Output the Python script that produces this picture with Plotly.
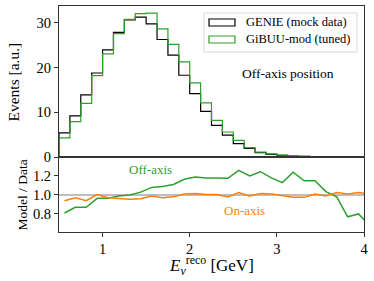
import plotly.graph_objects as go

# ---------------- data ----------------
bin_edges = [0.5, 0.625, 0.75, 0.875, 1.0, 1.125, 1.25, 1.375, 1.5, 1.625, 1.75, 1.875,
             2.0, 2.125, 2.25, 2.375, 2.5, 2.625, 2.75, 2.875, 3.0, 3.125, 3.25, 3.375,
             3.5, 3.625, 3.75, 3.875, 4.0]
genie_mock = [5.4, 9.2, 13.9, 18.8, 24.0, 27.9, 30.7, 31.3, 29.8, 26.3, 22.8, 18.3,
              14.2, 10.2, 7.1, 4.9, 3.0, 1.9, 1.0, 0.6, 0.35, 0.2, 0.12, 0.08,
              0.05, 0.03, 0.02, 0.01]
gibuu_tuned = [4.3, 7.9, 12.0, 18.2, 23.1, 27.6, 30.8, 32.1, 32.2, 28.7, 25.2, 21.3,
               16.6, 12.1, 8.2, 5.6, 3.7, 2.1, 1.1, 0.7, 0.4, 0.25, 0.12, 0.08,
               0.05, 0.03, 0.02, 0.01]

bin_centers = [0.5625, 0.6875, 0.8125, 0.9375, 1.0625, 1.1875, 1.3125, 1.4375, 1.5625,
               1.6875, 1.8125, 1.9375, 2.0625, 2.1875, 2.3125, 2.4375, 2.5625, 2.6875,
               2.8125, 2.9375, 3.0625, 3.1875, 3.3125, 3.4375, 3.5625, 3.6875, 3.8125,
               3.9375, 4.0625]
ratio_off_axis = [0.81, 0.87, 0.87, 0.965, 0.965, 0.99, 1.00, 1.03, 1.08, 1.09, 1.11, 1.165,
                  1.19, 1.18, 1.18, 1.175, 1.26, 1.20, 1.245, 1.18, 1.13, 1.24, 1.15, 1.15,
                  1.035, 0.98, 0.77, 0.80, 0.68]
ratio_on_axis = [0.94, 0.97, 0.94, 1.005, 0.97, 0.965, 0.955, 0.96, 0.99, 0.97, 0.98, 1.01,
                 1.015, 1.005, 1.005, 0.98, 1.025, 0.99, 1.015, 1.01, 0.995, 0.975, 0.975, 1.01,
                 0.99, 1.025, 1.01, 1.025, 1.01]

x_ticks = [1, 2, 3, 4]
y_ticks_top = [0, 10, 20, 30]
y_ticks_bottom = [0.8, 1.0, 1.2]

# ---------------- styling ----------------
FONT = "Liberation Serif"
BLACK = "#000000"
GREEN = "#2ca02c"
ORANGE = "#ff7f0e"
AX = "#333333"

W, H = 374, 281
ML, MR, MT, MB = 59, 10, 6, 49
PW, PH = W - ML - MR, H - MT - MB
SPLIT_PX = 157  # y pixel of panel boundary


def px_x(px):
    return (px - ML) / PW


def px_y(py):
    return (H - MB - py) / PH


split = px_y(SPLIT_PX)

fig = go.Figure()

# histograms (step)
fig.add_trace(go.Scatter(x=[bin_edges[0]] + bin_edges, y=[0] + genie_mock + [genie_mock[-1]],
                         mode="lines", line=dict(color=BLACK, width=1.2, shape="hv"),
                         xaxis="x", yaxis="y", showlegend=False, name="GENIE (mock data)"))
fig.add_trace(go.Scatter(x=[bin_edges[0]] + bin_edges, y=[0] + gibuu_tuned + [gibuu_tuned[-1]],
                         mode="lines", line=dict(color=GREEN, width=1.2, shape="hv"),
                         xaxis="x", yaxis="y", showlegend=False, name="GiBUU-mod (tuned)"))

# ratios
fig.add_trace(go.Scatter(x=bin_centers, y=ratio_off_axis, mode="lines",
                         line=dict(color=GREEN, width=1.5), xaxis="x2", yaxis="y2",
                         showlegend=False))
fig.add_trace(go.Scatter(x=bin_centers, y=ratio_on_axis, mode="lines",
                         line=dict(color=ORANGE, width=1.5), xaxis="x2", yaxis="y2",
                         showlegend=False))

axis_common = dict(showline=True, linecolor=AX, linewidth=1, mirror=True,
                   showgrid=False, zeroline=False, ticks="outside", ticklen=4,
                   tickcolor=AX, tickfont=dict(family=FONT, size=14.5, color="#000"))

fig.update_layout(
    width=W, height=H,
    margin=dict(l=ML, r=MR, t=MT, b=MB),
    paper_bgcolor="white", plot_bgcolor="white",
    font=dict(family=FONT, color="#000"),
    xaxis=dict(**{**axis_common, "ticks": ""}, domain=[0, 1], anchor="y", range=[0.5, 4.0],
               matches="x2", showticklabels=False, tickvals=x_ticks),
    yaxis=dict(**axis_common, domain=[split, 1], anchor="x", range=[0, 33.8],
               tickvals=y_ticks_top),
    xaxis2=dict(**axis_common, domain=[0, 1], anchor="y2", range=[0.5, 4.0],
                tickvals=x_ticks),
    yaxis2=dict(**axis_common, domain=[0, split], anchor="x2", range=[0.61, 1.40],
                tickvals=y_ticks_bottom, tickformat=".1f"),
)

# reference line at 1
fig.add_shape(type="line", xref="x2", yref="y2", x0=0.5, x1=4.0, y0=1.0, y1=1.0,
              line=dict(color="#a8a8a8", width=1.5), layer="below")

# legend box (manual, to match outlined-rectangle handles)
fig.add_shape(type="rect", xref="paper", yref="paper",
              x0=px_x(204), x1=px_x(357), y0=px_y(52), y1=px_y(13),
              line=dict(color="#d8d8d8", width=1), fillcolor="rgba(255,255,255,0.8)")
legend_items = [("GENIE (mock data)", BLACK, 22.5), ("GiBUU-mod (tuned)", GREEN, 39.5)]
for label, col, cy in legend_items:
    fig.add_shape(type="rect", xref="paper", yref="paper",
                  x0=px_x(209), x1=px_x(235), y0=px_y(cy + 3.5), y1=px_y(cy - 3.5),
                  line=dict(color=col, width=1.2), fillcolor="rgba(0,0,0,0)")
    fig.add_annotation(text=label, xref="paper", yref="paper", x=px_x(244), y=px_y(cy),
                       xanchor="left", yanchor="middle", showarrow=False,
                       font=dict(family=FONT, size=12.5, color="#000"))

def ann(text, px, py, size, color="#000", angle=0, xanchor="center"):
    fig.add_annotation(text=text, xref="paper", yref="paper", x=px_x(px), y=px_y(py),
                       xanchor=xanchor, yanchor="middle", showarrow=False, textangle=angle,
                       font=dict(family=FONT, size=size, color=color))

ann("Off-axis position", 288, 73, 13.5)
ann("Off-axis", 150.5, 169, 13, GREEN)
ann("On-axis", 244.5, 210, 13, ORANGE)

# axis titles
ann("Events [a.u.]", 13.5, 82, 15.5, angle=-90)
ann("Model / Data", 21.5, 195, 13.5, angle=-90)

# x title: E_nu^reco [GeV]
ann("<i>E</i><sub><i>ν</i></sub><sup>reco</sup> [GeV]", 211, 265, 17)

fig.write_html("out.html", post_script="document.body.style.margin='0';",
               config={"displayModeBar": False})
